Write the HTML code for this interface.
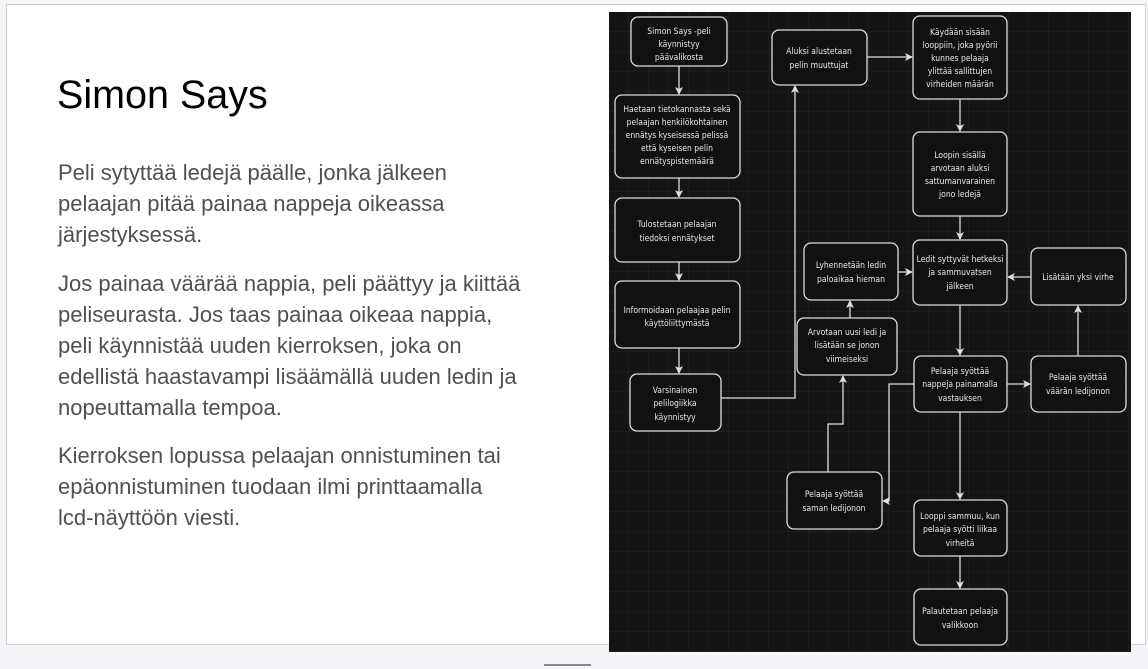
<!DOCTYPE html>
<html><head><meta charset="utf-8"><style>
body{margin:0;width:1148px;height:669px;background:#f4f5f8;position:relative;overflow:hidden;font-family:"Liberation Sans",sans-serif}
#slide{position:absolute;left:6px;top:4px;width:1138px;height:639px;background:#fff;border:1px solid #cfcfcf}
h1{position:absolute;left:57px;top:70px;margin:0;font-weight:normal;font-size:39.5px;color:#000;line-height:50px}
.p{position:absolute;left:58px;font-size:22px;line-height:31px;color:#505050;width:520px;white-space:nowrap}
#bar{position:absolute;left:544px;top:664px;width:47px;height:2px;background:#888}
svg{position:absolute;left:0;top:0}
</style></head><body>
<div id="slide"></div>
<h1>Simon Says</h1>
<div class="p" style="top:157px">Peli sytyttää ledejä päälle, jonka jälkeen<br>pelaajan pitää painaa nappeja oikeassa<br>järjestyksessä.</div>
<div class="p" style="top:268px">Jos painaa väärää nappia, peli päättyy ja kiittää<br>peliseurasta. Jos taas painaa oikeaa nappia,<br>peli käynnistää uuden kierroksen, joka on<br>edellistä haastavampi lisäämällä uuden ledin ja<br>nopeuttamalla tempoa.</div>
<div class="p" style="top:440px">Kierroksen lopussa pelaajan onnistuminen tai<br>epäonnistuminen tuodaan ilmi printtaamalla<br>lcd-näyttöön viesti.</div>
<div id="bar"></div>
<svg width="1148" height="669" viewBox="0 0 1148 669">
<defs>
<pattern id="g" width="20" height="20" patternUnits="userSpaceOnUse" x="609" y="12">
<path d="M20 0V20M0 20H20" stroke="#262626" stroke-width="1" fill="none"/></pattern>
<marker id="a" markerWidth="8" markerHeight="8" refX="7" refY="4" orient="auto" markerUnits="userSpaceOnUse"><path d="M0,0L8,4L0,8L2,4z" fill="#ddd"/></marker>
</defs>
<rect x="609" y="12" width="522" height="640" fill="#141414"/>
<rect x="609" y="12" width="522" height="640" fill="url(#g)"/>
<g stroke="#ddd" stroke-width="1.3" fill="none">
<path d="M679 66V94" marker-end="url(#a)"/>
<path d="M679 178V197" marker-end="url(#a)"/>
<path d="M679 262V280" marker-end="url(#a)"/>
<path d="M679 348V373" marker-end="url(#a)"/>
<path d="M721 398H795V86" marker-end="url(#a)"/>
<path d="M867 57H912" marker-end="url(#a)"/>
<path d="M960 99V131" marker-end="url(#a)"/>
<path d="M960 216V239" marker-end="url(#a)"/>
<path d="M960 305V355" marker-end="url(#a)"/>
<path d="M960 412V499" marker-end="url(#a)"/>
<path d="M960 556V588" marker-end="url(#a)"/>
<path d="M898 272H912" marker-end="url(#a)"/>
<path d="M1031 277H1008" marker-end="url(#a)"/>
<path d="M1078 356V306" marker-end="url(#a)"/>
<path d="M1007 384H1030" marker-end="url(#a)"/>
<path d="M850 318V301" marker-end="url(#a)"/>
<path d="M828 472V424H843V376" marker-end="url(#a)"/>
<path d="M914 384H889V501H883" marker-end="url(#a)"/>
</g>
<g stroke="#ddd" stroke-width="1.3" fill="#111">
<rect x="631" y="17" width="96" height="49" rx="7"/>
<rect x="615" y="95" width="125" height="83" rx="7"/>
<rect x="615" y="198" width="125" height="64" rx="7"/>
<rect x="615" y="281" width="125" height="67" rx="7"/>
<rect x="630" y="374" width="91" height="57" rx="7"/>
<rect x="772" y="30" width="95" height="55" rx="7"/>
<rect x="913" y="16" width="94" height="83" rx="7"/>
<rect x="913" y="132" width="94" height="84" rx="7"/>
<rect x="913" y="240" width="94" height="65" rx="7"/>
<rect x="1031" y="248" width="95" height="57" rx="7"/>
<rect x="804" y="243" width="94" height="57" rx="7"/>
<rect x="797" y="318" width="100" height="57" rx="7"/>
<rect x="914" y="356" width="93" height="56" rx="7"/>
<rect x="1031" y="356" width="95" height="56" rx="7"/>
<rect x="787" y="472" width="95" height="57" rx="7"/>
<rect x="914" y="500" width="93" height="56" rx="7"/>
<rect x="914" y="589" width="93" height="56" rx="7"/>
</g>
<g fill="#e8e8e8" font-family="DejaVu Sans Condensed, Liberation Sans, sans-serif" font-size="8.5" text-anchor="middle">
<text x="679" y="34">Simon Says -peli</text><text x="679" y="47">käynnistyy</text><text x="679" y="60">päävalikosta</text>
<text x="677" y="112">Haetaan tietokannasta sekä</text><text x="677" y="125">pelaajan henkilökohtainen</text><text x="677" y="138">ennätys kyseisessä pelissä</text><text x="677" y="151">että kyseisen pelin</text><text x="677" y="164">ennätyspistemäärä</text>
<text x="677" y="227">Tulostetaan pelaajan</text><text x="677" y="241">tiedoksi ennätykset</text>
<text x="677" y="313">Informoidaan pelaajaa pelin</text><text x="677" y="326">käyttöliittymästä</text>
<text x="675" y="393">Varsinainen</text><text x="675" y="406">pelilogiikka</text><text x="675" y="420">käynnistyy</text>
<text x="819" y="54">Aluksi alustetaan</text><text x="819" y="68">pelin muuttujat</text>
<text x="960" y="35">Käydään sisään</text><text x="960" y="48">looppiin, joka pyörii</text><text x="960" y="61">kunnes pelaaja</text><text x="960" y="74">ylittää sallittujen</text><text x="960" y="87">virheiden määrän</text>
<text x="960" y="158">Loopin sisällä</text><text x="960" y="171">arvotaan aluksi</text><text x="960" y="184">sattumanvarainen</text><text x="960" y="197">jono ledejä</text>
<text x="960" y="262">Ledit syttyvät hetkeksi</text><text x="960" y="275">ja sammuvatsen</text><text x="960" y="289">jälkeen</text>
<text x="1078" y="280">Lisätään yksi virhe</text>
<text x="851" y="268">Lyhennetään ledin</text><text x="851" y="282">paloaikaa hieman</text>
<text x="847" y="335">Arvotaan uusi ledi ja</text><text x="847" y="348">lisätään se jonon</text><text x="847" y="362">viimeiseksi</text>
<text x="960" y="374">Pelaaja syöttää</text><text x="960" y="387">nappeja painamalla</text><text x="960" y="401">vastauksen</text>
<text x="1078" y="380">Pelaaja syöttää</text><text x="1078" y="394">väärän ledijonon</text>
<text x="834" y="497">Pelaaja syöttää</text><text x="834" y="511">saman ledijonon</text>
<text x="960" y="519">Looppi sammuu, kun</text><text x="960" y="532">pelaaja syötti liikaa</text><text x="960" y="546">virheitä</text>
<text x="960" y="614">Palautetaan pelaaja</text><text x="960" y="628">valikkoon</text>
</g>
</svg>
</body></html>
